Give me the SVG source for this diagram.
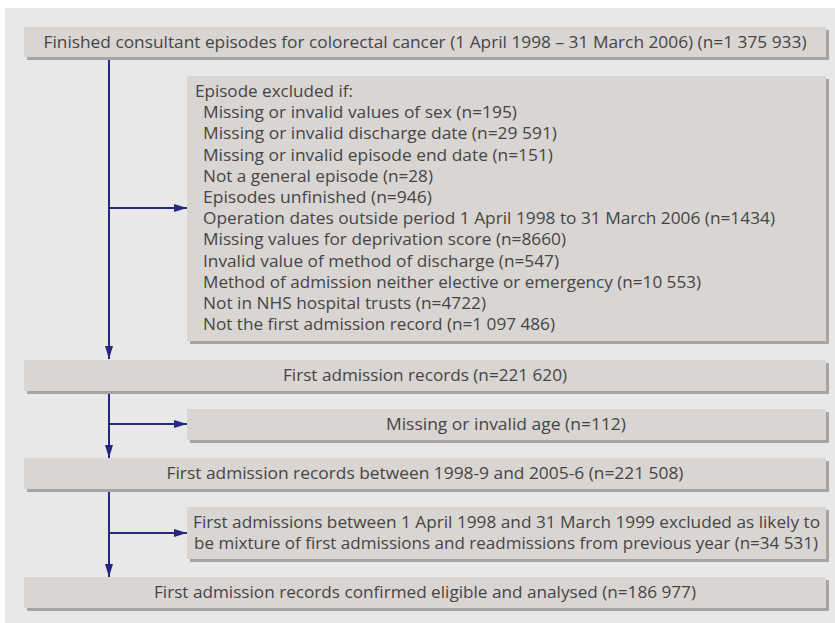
<svg xmlns="http://www.w3.org/2000/svg" width="835" height="623" viewBox="0 0 835 623">
<style>
.bg{fill:#e8e8e8}
.sh{fill:#a8a4a1}
.bx{fill:#d9d5d2}
.t{font-family:"Open Sans","Noto Sans","Liberation Sans",sans-serif;font-size:16.5px;fill:#454545}
.c{text-anchor:middle}
.ln{stroke:#27277f;stroke-width:2;fill:none}
</style>
<defs>
<marker id="ah" markerUnits="userSpaceOnUse" markerWidth="13" markerHeight="8" refX="13" refY="4" orient="auto">
<path d="M0,0 L13,4 L0,8 z" fill="#27277f"/>
</marker>
</defs>
<rect class="bg" x="5" y="8" width="830" height="615"/>
<g id="connectors">
<path class="ln" d="M109,57 V359" marker-end="url(#ah)"/>
<path class="ln" d="M109,208 H187" marker-end="url(#ah)"/>
<path class="ln" d="M109,391 V458" marker-end="url(#ah)"/>
<path class="ln" d="M109,424 H187" marker-end="url(#ah)"/>
<path class="ln" d="M109,489 V577" marker-end="url(#ah)"/>
<path class="ln" d="M109,533 H187" marker-end="url(#ah)"/>
</g>
<g id="n1">
<rect class="sh" x="27" y="30" width="802" height="30"/>
<rect class="bx" x="24" y="27" width="802" height="30"/>
<text class="t c" x="425" y="48" textLength="763" lengthAdjust="spacingAndGlyphs">Finished consultant episodes for colorectal cancer (1 April 1998 – 31 March 2006) (n=1 375 933)</text>
</g>
<g id="excl1">
<rect class="sh" x="190" y="79" width="639" height="265"/>
<rect class="bx" x="187" y="76" width="639" height="265"/>
<text class="t" x="195" y="97" textLength="158" lengthAdjust="spacingAndGlyphs">Episode excluded if:</text>
<text class="t" x="203" y="118.2" textLength="314" lengthAdjust="spacingAndGlyphs">Missing or invalid values of sex (n=195)</text>
<text class="t" x="203" y="139.4" textLength="354" lengthAdjust="spacingAndGlyphs">Missing or invalid discharge date (n=29 591)</text>
<text class="t" x="203" y="160.6" textLength="350" lengthAdjust="spacingAndGlyphs">Missing or invalid episode end date (n=151)</text>
<text class="t" x="203" y="181.8" textLength="230" lengthAdjust="spacingAndGlyphs">Not a general episode (n=28)</text>
<text class="t" x="203" y="203" textLength="229" lengthAdjust="spacingAndGlyphs">Episodes unfinished (n=946)</text>
<text class="t" x="203" y="224.2" textLength="572" lengthAdjust="spacingAndGlyphs">Operation dates outside period 1 April 1998 to 31 March 2006 (n=1434)</text>
<text class="t" x="203" y="245.4" textLength="363" lengthAdjust="spacingAndGlyphs">Missing values for deprivation score (n=8660)</text>
<text class="t" x="203" y="266.6" textLength="356" lengthAdjust="spacingAndGlyphs">Invalid value of method of discharge (n=547)</text>
<text class="t" x="203" y="287.8" textLength="498" lengthAdjust="spacingAndGlyphs">Method of admission neither elective or emergency (n=10 553)</text>
<text class="t" x="203" y="309" textLength="283" lengthAdjust="spacingAndGlyphs">Not in NHS hospital trusts (n=4722)</text>
<text class="t" x="203" y="330.2" textLength="352" lengthAdjust="spacingAndGlyphs">Not the first admission record (n=1 097 486)</text>
</g>
<g id="n2">
<rect class="sh" x="27" y="363" width="802" height="31"/>
<rect class="bx" x="24" y="360" width="802" height="31"/>
<text class="t c" x="425" y="380.5" textLength="284" lengthAdjust="spacingAndGlyphs">First admission records (n=221 620)</text>
</g>
<g id="excl2">
<rect class="sh" x="190" y="412" width="639" height="31"/>
<rect class="bx" x="187" y="409" width="639" height="31"/>
<text class="t c" x="506" y="430" textLength="240" lengthAdjust="spacingAndGlyphs">Missing or invalid age (n=112)</text>
</g>
<g id="n3">
<rect class="sh" x="27" y="461" width="802" height="31"/>
<rect class="bx" x="24" y="458" width="802" height="31"/>
<text class="t c" x="425" y="479" textLength="517" lengthAdjust="spacingAndGlyphs">First admission records between 1998-9 and 2005-6 (n=221 508)</text>
</g>
<g id="excl3">
<rect class="sh" x="190" y="510" width="639" height="52"/>
<rect class="bx" x="187" y="507" width="639" height="52"/>
<text class="t c" x="506.5" y="528" textLength="627" lengthAdjust="spacingAndGlyphs">First admissions between 1 April 1998 and 31 March 1999 excluded as likely to</text>
<text class="t c" x="506" y="549" textLength="624" lengthAdjust="spacingAndGlyphs">be mixture of first admissions and readmissions from previous year (n=34 531)</text>
</g>
<g id="n4">
<rect class="sh" x="27" y="580" width="802" height="31"/>
<rect class="bx" x="24" y="577" width="802" height="31"/>
<text class="t c" x="425" y="598" textLength="542" lengthAdjust="spacingAndGlyphs">First admission records confirmed eligible and analysed (n=186 977)</text>
</g>
</svg>
